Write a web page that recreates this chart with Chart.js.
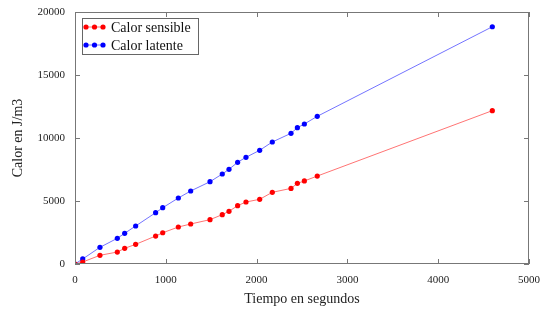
<!DOCTYPE html>
<html>
<head>
<meta charset="utf-8">
<script src="https://cdn.jsdelivr.net/npm/chart.js@4/dist/chart.umd.min.js"></script>
<style>
  body { margin: 0; background: #fff; }
  #wrap { width: 542px; height: 310px; }
</style>
</head>
<body>
<div id="wrap"><canvas id="myChart" width="542" height="310"></canvas></div>
<script>
// datos
const tiempo = [0, 85, 275, 466, 547, 668, 888, 966, 1138, 1274, 1487, 1622, 1696, 1791, 1883, 2034, 2173, 2379, 2449, 2526, 2668, 4596];
const calorSensible = [0, 160, 690, 950, 1245, 1560, 2220, 2480, 2935, 3175, 3520, 3915, 4180, 4630, 4920, 5135, 5690, 6000, 6400, 6590, 6980, 12170];
const calorLatente = [0, 400, 1325, 2040, 2435, 3016, 4071, 4468, 5238, 5794, 6532, 7143, 7516, 8071, 8468, 9024, 9683, 10373, 10817, 11111, 11720, 18830];
const xTicks = [0, 1000, 2000, 3000, 4000, 5000];
const yTicks = [0, 5000, 10000, 15000, 20000];

const pares = (ys) => tiempo.map((t, i) => ({ x: t, y: ys[i] }));

// caja y marcas hacia dentro, estilo matlab
const cajaPlugin = {
    id: 'caja',
    afterDraw(chart) {
        const c = chart.ctx;
        const a = chart.chartArea;
        const sx = chart.scales.x, sy = chart.scales.y;
        c.save();
        c.strokeStyle = '#777';
        c.lineWidth = 1;
        c.strokeRect(a.left + 0.5, a.top + 0.5, a.right - a.left - 1, a.bottom - a.top - 1);
        c.beginPath();
        xTicks.forEach(v => {
            const px = Math.round(sx.getPixelForValue(v)) + 0.5;
            c.moveTo(px, a.bottom); c.lineTo(px, a.bottom - 5);
            c.moveTo(px, a.top); c.lineTo(px, a.top + 5);
        });
        yTicks.forEach(v => {
            const py = Math.round(sy.getPixelForValue(v)) + 0.5;
            c.moveTo(a.left, py); c.lineTo(a.left + 5, py);
            c.moveTo(a.right, py); c.lineTo(a.right - 5, py);
        });
        c.stroke();

        // leyenda
        const lx = 82, ly = 18, lw = 116, lh = 36;
        c.fillStyle = '#fff';
        c.fillRect(lx, ly, lw, lh);
        c.strokeStyle = '#666';
        c.strokeRect(lx + 0.5, ly + 0.5, lw, lh);
        chart.data.datasets.forEach((ds, i) => {
            const y = ly + 9 + i * 18;
            c.strokeStyle = ds.borderColor;
            c.beginPath(); c.moveTo(lx + 3, y); c.lineTo(lx + 22, y); c.stroke();
            c.fillStyle = ds.pointBackgroundColor;
            [lx + 4, lx + 12.5, lx + 21].forEach(px => {
                c.beginPath(); c.arc(px, y, 2.6, 0, Math.PI * 2); c.fill();
            });
            c.fillStyle = '#111';
            c.font = '14px "Liberation Serif"';
            c.textBaseline = 'middle';
            c.fillText(ds.label, lx + 29, y + 1);
        });
        c.restore();
    }
};

const ctx = document.getElementById('myChart').getContext('2d');
const myChart = new Chart(ctx, {
    type: 'scatter',
    data: {
        datasets: [{
            label: 'Calor sensible',
            data: pares(calorSensible),
            showLine: true,
            borderColor: 'rgba(255, 0, 0, 0.55)',
            borderWidth: 1,
            pointBackgroundColor: '#ff0000',
            pointBorderColor: '#ff0000',
            pointRadius: 2.6,
            pointBorderWidth: 0
        }, {
            label: 'Calor latente',
            data: pares(calorLatente),
            showLine: true,
            borderColor: 'rgba(0, 0, 255, 0.55)',
            borderWidth: 1,
            pointBackgroundColor: '#0000ff',
            pointBorderColor: '#0000ff',
            pointRadius: 2.6,
            pointBorderWidth: 0
        }]
    },
    options: {
        responsive: false,
        animation: false,
        layout: { padding: { top: 12, right: 13, left: 0, bottom: 0 } },
        plugins: { legend: { display: false }, tooltip: { enabled: false } },
        scales: {
            x: {
                type: 'linear', min: 0, max: 5000,
                afterBuildTicks: (s) => { s.ticks = xTicks.map(v => ({ value: v })); },
                afterFit: (s) => { s.height = 46; },
                grid: { display: false },
                border: { display: false },
                ticks: { color: '#222', font: { family: 'Liberation Serif', size: 11 }, padding: 2, maxRotation: 0, callback: (v) => String(v) },
                title: { display: true, text: 'Tiempo en segundos', color: '#222', font: { family: 'Liberation Serif', size: 14 }, padding: { top: 0, bottom: 2 } }
            },
            y: {
                type: 'linear', min: 0, max: 20000,
                afterBuildTicks: (s) => { s.ticks = yTicks.map(v => ({ value: v })); },
                afterFit: (s) => { s.width = 75; },
                grid: { display: false },
                border: { display: false },
                ticks: { color: '#222', font: { family: 'Liberation Serif', size: 11 }, padding: 2, callback: (v) => String(v) },
                title: { display: true, text: 'Calor en J/m3', color: '#222', font: { family: 'Liberation Serif', size: 14 }, padding: { top: 10, bottom: 0 } }
            }
        }
    },
    plugins: [cajaPlugin]
});
</script>
</body>
</html>
